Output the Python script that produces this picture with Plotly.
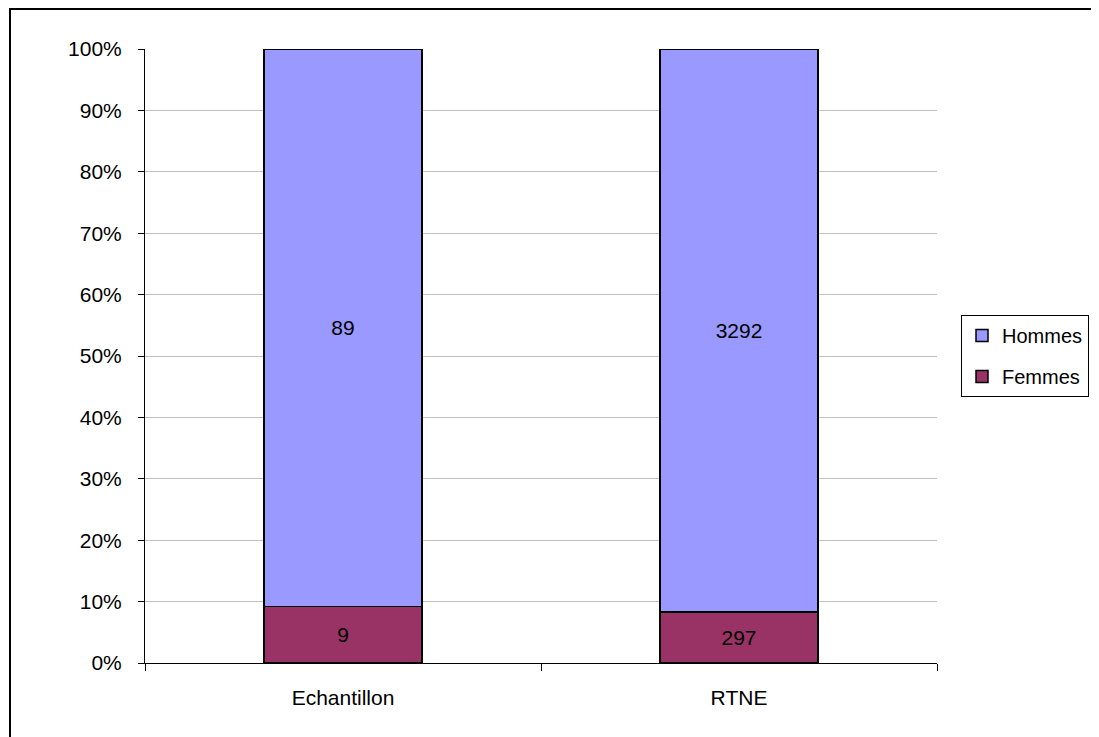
import plotly.graph_objects as go

categories = ["Echantillon", "RTNE"]
femmes = [9, 297]
hommes = [89, 3292]
y_ticks = [0, 10, 20, 30, 40, 50, 60, 70, 80, 90, 100]
y_ticklabels = [f"{v}%" for v in y_ticks]

FONT = "Liberation Sans, Arial, sans-serif"
FS = 21
OFF = 8  # page body offset

fig = go.Figure()
fig.add_trace(go.Bar(
    name="Femmes", x=categories, y=femmes, text=femmes, texttemplate="%{text}",
    textposition="inside", insidetextanchor="middle", legendgroup="f", legendrank=2,
    marker=dict(color="#993366", line=dict(color="black", width=1.5)),
    textfont=dict(color="black", size=FS, family=FONT), hoverinfo="skip",
))
fig.add_trace(go.Bar(
    name="Hommes", x=categories, y=hommes, text=hommes, texttemplate="%{text}",
    textposition="inside", insidetextanchor="middle", legendgroup="h", legendrank=1,
    marker=dict(color="#9999FF", line=dict(color="black", width=1.5)),
    textfont=dict(color="black", size=FS, family=FONT), hoverinfo="skip",
))

W, H = 1099 - OFF, 737 - OFF
L, T = 145 - OFF, 49 - OFF
R = W - (937 - OFF)
B = H - (663 - OFF)
pw, ph = 937 - 145, 663 - 49

fig.update_layout(
    width=W, height=H,
    margin=dict(l=L, r=R, t=T, b=B, pad=0, autoexpand=False),
    barmode="stack", barnorm="percent", bargap=0.6,
    paper_bgcolor="white", plot_bgcolor="white",
    font=dict(family=FONT, size=FS, color="black"),
    uniformtext=dict(mode="show", minsize=FS),
    showlegend=True,
    legend=dict(
        xref="container", yref="container",
        x=(961 - OFF) / W, y=1 - (356 - OFF) / H, xanchor="left", yanchor="middle",
        bordercolor="black", borderwidth=1, bgcolor="white",
        font=dict(size=20, family=FONT, color="black"),
        traceorder="grouped", tracegroupgap=12,
    ),
    xaxis=dict(
        showline=True, linecolor="black", linewidth=1,
        ticks="outside", ticklen=7, tickcolor="black", tickson="boundaries",
        showgrid=False, ticklabelstandoff=16,
        tickfont=dict(size=FS, family=FONT),
    ),
    yaxis=dict(
        range=[0, 100], tickvals=y_ticks, ticktext=y_ticklabels,
        showline=True, linecolor="black", linewidth=1,
        ticks="outside", ticklen=6, tickcolor="black",
        showgrid=True, gridcolor="#C0C0C0", gridwidth=1,
        zeroline=False, ticklabelstandoff=12,
        tickfont=dict(size=FS, family=FONT),
    ),
    shapes=[dict(
        type="rect", xref="paper", yref="paper",
        x0=(10 - 145) / pw, x1=(1200 - 145) / pw,
        y0=(663 - 800) / ph, y1=(663 - 9) / ph,
        line=dict(color="black", width=2), fillcolor="rgba(0,0,0,0)", layer="above",
    )],
)

fig.write_html("out.html")
